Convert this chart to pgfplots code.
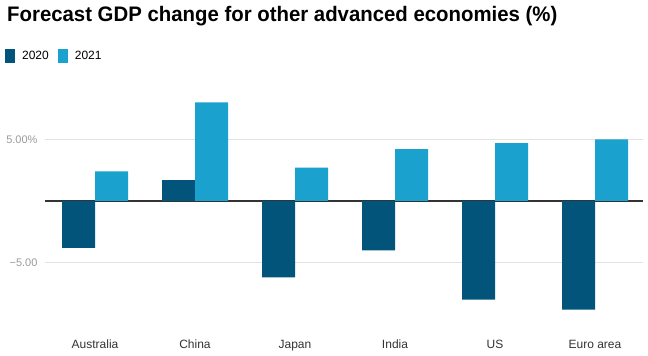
\documentclass[border=0pt]{standalone}
\usepackage{pgfplots}
\pgfplotsset{compat=1.18}
\usepackage{fontspec}
\setmainfont{Liberation Sans}
\usepackage{graphicx}
\definecolor{c20}{HTML}{02547A}
\definecolor{c21}{HTML}{1AA1CE}
\definecolor{gridc}{HTML}{E3E3E3}
\definecolor{tickc}{HTML}{999999}
\definecolor{labc}{HTML}{333333}
\begin{document}
\begin{tikzpicture}
\useasboundingbox (0pt,0pt) rectangle (648pt,356pt);
\node[anchor=base west, inner sep=0] at (7pt,334.3pt) {\scalebox{0.97}[1]{\fontsize{21}{24}\selectfont\bfseries Forecast GDP change for other advanced economies (\%)}};
\begin{axis}[
 at={(95pt,155pt)}, anchor=origin,
 scale only axis, width=598pt, height=234.4pt,
 ybar=0pt, bar width=33pt,
 xmin=-0.5, xmax=5.48, ymin=-10, ymax=9,
 xtick={0,...,5}, xticklabels={Australia,China,Japan,India,US,Euro area},
 ytick={-5,5}, yticklabels={−5.00,5.00\%},
 extra y ticks={0}, extra y tick labels={}, extra y tick style={grid style={draw=labc, line width=1.3pt}},
 ymajorgrids, grid style={draw=gridc, line width=1pt},
 axis line style={draw=none}, major tick length=0pt,
 tick label style={font=\fontsize{11}{13}\selectfont},
 yticklabel style={text=tickc, xshift=-4pt},
 xticklabel style={text=labc, anchor=base, yshift=-24.6pt, font=\fontsize{12}{14}\selectfont},
 legend style={at={(-0.072,1.145)}, anchor=west, draw=none, legend columns=2, font=\fontsize{12}{14}\selectfont, /tikz/every even column/.append style={column sep=7pt}},
 legend image code/.code={\fill[#1] (0pt,-6.7pt) rectangle (10pt,6.7pt); \path (15pt,0pt);},
 /pgf/number format/assume math mode=true,
]
\addplot[fill=c20, draw=none] coordinates {(0,-3.8) (1,1.7) (2,-6.2) (3,-4.0) (4,-8.0) (5,-8.8)};
\addplot[fill=c21, draw=none] coordinates {(0,2.4) (1,8.0) (2,2.7) (3,4.2) (4,4.7) (5,5.0)};
\legend{2020,2021}
\end{axis}
\end{tikzpicture}
\end{document}
